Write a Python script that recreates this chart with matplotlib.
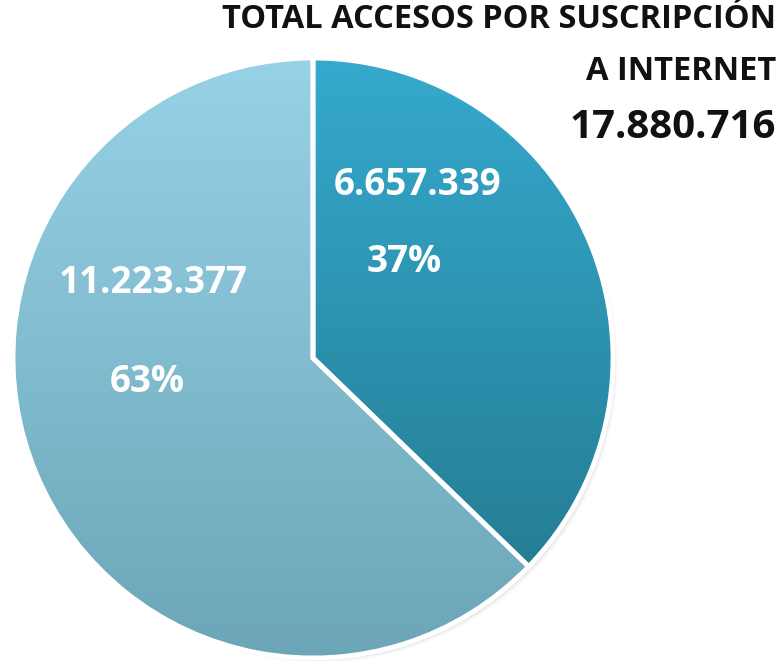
import matplotlib
matplotlib.use("Agg")
import matplotlib.pyplot as plt
import numpy as np
from matplotlib.colors import LinearSegmentedColormap

# Data
segment_names = ["Segmento A", "Segmento B"]
values = [6657339, 11223377]
title_lines = ["TOTAL ACCESOS POR SUSCRIPCIÓN", "A INTERNET"]
top_colors = ["#36abd0", "#98d3e8"]
bottom_colors = ["#217488", "#6aa4b6"]

total = sum(values)

def fmt(n):
    return f"{n:,}".replace(",", ".")

W, H = 778, 661
fig = plt.figure(figsize=(W / 100, H / 100), dpi=100)
ax = fig.add_axes([0, 0, 1, 1])
ax.set_xlim(0, W)
ax.set_ylim(0, H)
ax.axis("off")

cx, cy, R = 313, H - 358, 300

# soft shadow
for i, a in enumerate(np.linspace(0.05, 0.01, 5)):
    sh = plt.Circle((cx + 2 + i, cy - 2 - i), R - 1, color="black", alpha=a, lw=0, zorder=0)
    ax.add_patch(sh)

wedges, _ = ax.pie(values, startangle=90, counterclock=False,
                   center=(cx, cy), radius=R, explode=[0.018, 0],
                   colors=top_colors,
                   wedgeprops=dict(edgecolor="white", linewidth=3.5))
ax.set_xlim(0, W)
ax.set_ylim(0, H)
ax.set_aspect("equal")

grad = np.linspace(0, 1, 256).reshape(-1, 1)
for w, ct, cb in zip(wedges, top_colors, bottom_colors):
    cmap = LinearSegmentedColormap.from_list("g", [ct, cb])
    im = ax.imshow(grad, cmap=cmap, aspect="auto", origin="upper",
                   extent=(cx - R - 20, cx + R + 20, cy - R - 20, cy + R + 20),
                   zorder=w.get_zorder() + 0.1, interpolation="bilinear")
    im.set_clip_path(w)
    w.set_facecolor("none")
    w.set_zorder(w.get_zorder() + 0.2)

ax.set_xlim(0, W)
ax.set_ylim(0, H)

fam = ["Open Sans", "DejaVu Sans"]
# value labels
pcts = [v / total * 100 for v in values]
lab_pos = [((418, 185), (404, 262)), ((153, 283), (147, 382))]
for v, p, (p1, p2) in zip(values, pcts, lab_pos):
    ax.text(p1[0], H - p1[1], fmt(v), color="white", fontsize=26.5, fontweight="bold",
            ha="center", va="center", family=fam, zorder=5)
    ax.text(p2[0], H - p2[1], f"{p:.0f}%", color="white", fontsize=26.5, fontweight="bold",
            ha="center", va="center", family=fam, zorder=5)

ax.text(776, H - 20, title_lines[0], ha="right", va="center", fontsize=23.5,
        fontweight="bold", color="#111111", family=fam, zorder=5)
ax.text(776, H - 72, title_lines[1], ha="right", va="center", fontsize=23.5,
        fontweight="bold", color="#111111", family=fam, zorder=5)
ax.text(776, H - 128, fmt(total), ha="right", va="center", fontsize=29,
        fontweight="bold", color="#111111", family=fam, zorder=5)

fig.savefig("out.png", dpi=100)
